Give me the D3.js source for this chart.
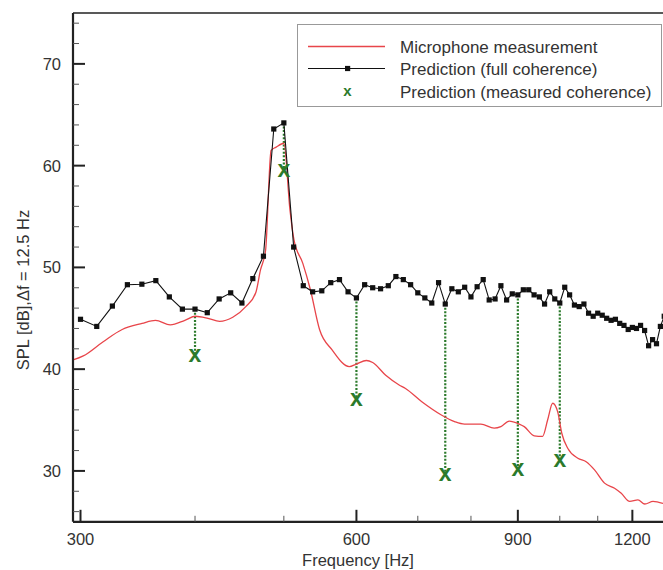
<!DOCTYPE html>
<html><head><meta charset="utf-8">
<script src="https://cdn.jsdelivr.net/npm/d3@7"></script>
<style>body{margin:0;background:#fff}svg{display:block}</style>
</head><body>
<script>
// ---- data ----
const fullFreq = [300,312.5,325,337.5,350,362.5,375,387.5,400,412.5,425,437.5,450,462.5,475,487.5,500,512.5,525,537.5,550,562.5,575,587.5,600,612.5,625,637.5,650,662.5,675,687.5,700,712.5,725,737.5,750,762.5,775,787.5,800,812.5,825,837.5,850,862.5,875,887.5,900,912.5,925,937.5,950,962.5,975,987.5,1000,1012.5,1025,1037.5,1050,1062.5,1075,1087.5,1100,1112.5,1125,1137.5,1150,1162.5,1175,1187.5,1200,1212.5,1225,1237.5,1250,1262.5,1275,1287.5,1300];
const fullSPL = [44.9,44.2,46.2,48.3,48.35,48.7,47.1,45.9,45.9,45.55,46.9,47.5,46.5,48.9,51.1,63.6,64.2,52.0,48.2,47.6,47.7,48.5,48.8,47.6,47.0,48.3,48.0,47.9,48.2,49.1,48.8,48.3,47.5,47.0,46.5,48.5,46.4,47.9,47.6,48.05,47.1,48.1,48.8,46.8,46.9,48.2,46.8,47.4,47.3,47.8,47.8,47.3,47.1,46.4,47.6,46.9,46.5,48.05,47.3,46.3,46.15,46.4,45.5,45.2,45.5,45.3,45.0,44.8,44.9,44.5,44.3,43.9,44.1,44.0,44.3,43.8,42.3,42.9,42.5,44.2,45.2];
const micFreq = [294.4,302.1,317.6,333.1,350.2,362.2,375.9,389.9,400.3,413.2,425.5,439.8,454.4,465.9,471.5,477.6,484.2,490,500,507.8,512.9,524.4,534.5,546.9,564.4,589.3,599.8,615.3,625.0,645.8,667.9,678.7,707.1,742.7,767.7,787.2,820.2,848.1,862.4,880.7,903.2,914.6,937.9,957.7,969.9,982.3,994.8,1005,1020.5,1046.5,1068.5,1091.2,1119,1147.6,1167,1192,1217,1238,1264,1296];
const micSPL = [40.9,41.3,42.7,43.9,44.5,44.8,44.35,44.8,45.2,45.0,44.7,45.1,46.15,47.5,49.75,51.7,61.5,61.8,62.2,55.6,52.7,50.4,47.8,43.9,41.9,40.25,40.5,40.85,40.65,39.4,38.45,38.1,36.8,35.5,34.85,34.6,34.6,34.2,34.35,34.9,34.6,34.35,33.45,33.4,35.0,36.65,35.8,33.7,32.2,31.25,30.9,30.1,28.8,28.3,27.8,27.0,27.15,26.75,27.0,26.8];
const measFreq = [400,500,600,750,900,1000];
const measSPL = [41.4,59.6,37.1,29.7,30.2,31.1];
const xMajor = [300,600,900,1200];
const xMinor = [400,500,700,800,1000,1100];
const yMajor = [30,40,50,60,70];
const yMinor = [26,28,32,34,36,38,42,44,46,48,52,54,56,58,62,64,66,68,72,74];
const legendLabels = ["Microphone measurement","Prediction (full coherence)","Prediction (measured coherence)"];

// ---- chart ----
const W=663,H=570;
const L=73,R=663,T=13,B=521.8;
const svg=d3.select("body").append("svg").attr("width",W).attr("height",H)
  .style("font-family","'Liberation Sans',Arial,sans-serif");
const x=d3.scaleLog().domain([294.4,1296]).range([L,R]);
const y=d3.scaleLinear().domain([25,75]).range([B,T]);

svg.append("clipPath").attr("id","clip").append("rect").attr("x",L).attr("y",T).attr("width",R-L).attr("height",B-T);
const plot=svg.append("g").attr("clip-path","url(#clip)");

const green="#2b7a2b";
// dotted verticals
const fullMap=new Map(fullFreq.map((f,i)=>[f,fullSPL[i]]));
plot.selectAll("line.drop").data(measFreq).join("line").attr("class","drop")
  .attr("x1",d=>x(d)).attr("x2",d=>x(d))
  .attr("y1",d=>y(fullMap.get(d))).attr("y2",(d,i)=>y(measSPL[i]))
  .attr("stroke",green).attr("stroke-width",2.2).attr("stroke-dasharray","2,1.6");

// mic line
plot.append("path").datum(micFreq.map((f,i)=>[f,micSPL[i]]))
  .attr("d",d3.line().x(d=>x(d[0])).y(d=>y(d[1])).curve(d3.curveMonotoneX))
  .attr("fill","none").attr("stroke","#e8454a").attr("stroke-width",1.3);

// full coherence line
const fullData=fullFreq.map((f,i)=>[f,fullSPL[i]]);
plot.append("path").datum(fullData)
  .attr("d",d3.line().x(d=>x(d[0])).y(d=>y(d[1])))
  .attr("fill","none").attr("stroke","#111").attr("stroke-width",1.1);
plot.selectAll("rect.pt").data(fullData).join("rect").attr("class","pt")
  .attr("x",d=>x(d[0])-2.6).attr("y",d=>y(d[1])-2.6).attr("width",5.2).attr("height",5.2).attr("fill","#111");

// measured coherence X
plot.selectAll("text.mx").data(measFreq).join("text").attr("class","mx")
  .attr("x",d=>x(d)).attr("y",(d,i)=>y(measSPL[i])+7)
  .attr("text-anchor","middle").attr("font-size",23).attr("font-weight","bold")
  .attr("fill",green).text("x");

// axes frame
svg.append("line").attr("x1",L).attr("x2",R).attr("y1",T).attr("y2",T).attr("stroke","#222").attr("stroke-width",1.5);
svg.append("line").attr("x1",L).attr("x2",L).attr("y1",T).attr("y2",B).attr("stroke","#222").attr("stroke-width",2.2);
svg.append("line").attr("x1",L).attr("x2",R).attr("y1",B).attr("y2",B).attr("stroke","#222").attr("stroke-width",2.2);

// x ticks
svg.selectAll("line.xM").data(xMajor).join("line").attr("x1",d=>x(d)).attr("x2",d=>x(d))
  .attr("y1",B).attr("y2",B-12).attr("stroke","#222").attr("stroke-width",2);
svg.selectAll("line.xm").data(xMinor).join("line").attr("x1",d=>x(d)).attr("x2",d=>x(d))
  .attr("y1",B).attr("y2",B-6).attr("stroke","#555").attr("stroke-width",1);
svg.selectAll("text.xl").data(xMajor).join("text").attr("x",d=>x(d)).attr("y",545)
  .attr("text-anchor","middle").attr("font-size",16.5).attr("fill","#333").text(d=>d);
svg.append("text").attr("x",358).attr("y",566).attr("text-anchor","middle")
  .attr("font-size",16.5).attr("fill","#333").text("Frequency [Hz]");

// y ticks
svg.selectAll("line.yM").data(yMajor).join("line").attr("x1",L).attr("x2",L+12)
  .attr("y1",d=>y(d)).attr("y2",d=>y(d)).attr("stroke","#222").attr("stroke-width",2);
svg.selectAll("line.ym").data(yMinor).join("line").attr("x1",L).attr("x2",L+6)
  .attr("y1",d=>y(d)).attr("y2",d=>y(d)).attr("stroke","#555").attr("stroke-width",1);
svg.selectAll("text.yl").data(yMajor).join("text").attr("x",61).attr("y",d=>y(d)+6)
  .attr("text-anchor","end").attr("font-size",16.5).attr("fill","#333").text(d=>d);
svg.append("text").attr("transform","translate(29,290) rotate(-90)").attr("text-anchor","middle")
  .attr("font-size",16.5).attr("fill","#333").text("SPL [dB],\u0394f = 12.5 Hz");

// legend
const lg=svg.append("g");
lg.append("rect").attr("x",297.5).attr("y",24.5).attr("width",364).attr("height",82)
  .attr("fill","#fff").attr("stroke","#999").attr("stroke-width",1);
const ly=[46.5,68.5,91.5];
lg.append("line").attr("x1",308).attr("x2",385).attr("y1",ly[0]).attr("y2",ly[0]).attr("stroke","#e8454a").attr("stroke-width",1.3);
lg.append("line").attr("x1",308).attr("x2",385).attr("y1",ly[1]).attr("y2",ly[1]).attr("stroke","#111").attr("stroke-width",1.1);
lg.append("rect").attr("x",345).attr("y",ly[1]-2.6).attr("width",5.2).attr("height",5.2).attr("fill","#111");
lg.append("text").attr("x",347.5).attr("y",ly[2]+4.5).attr("text-anchor","middle").attr("font-size",15)
  .attr("font-weight","bold").attr("fill",green).text("x");
lg.selectAll("text.lt").data(legendLabels).join("text").attr("class","lt")
  .attr("x",400).attr("y",(d,i)=>ly[i]+6).attr("font-size",17).attr("fill","#333").text(d=>d);
</script>
</body></html>
